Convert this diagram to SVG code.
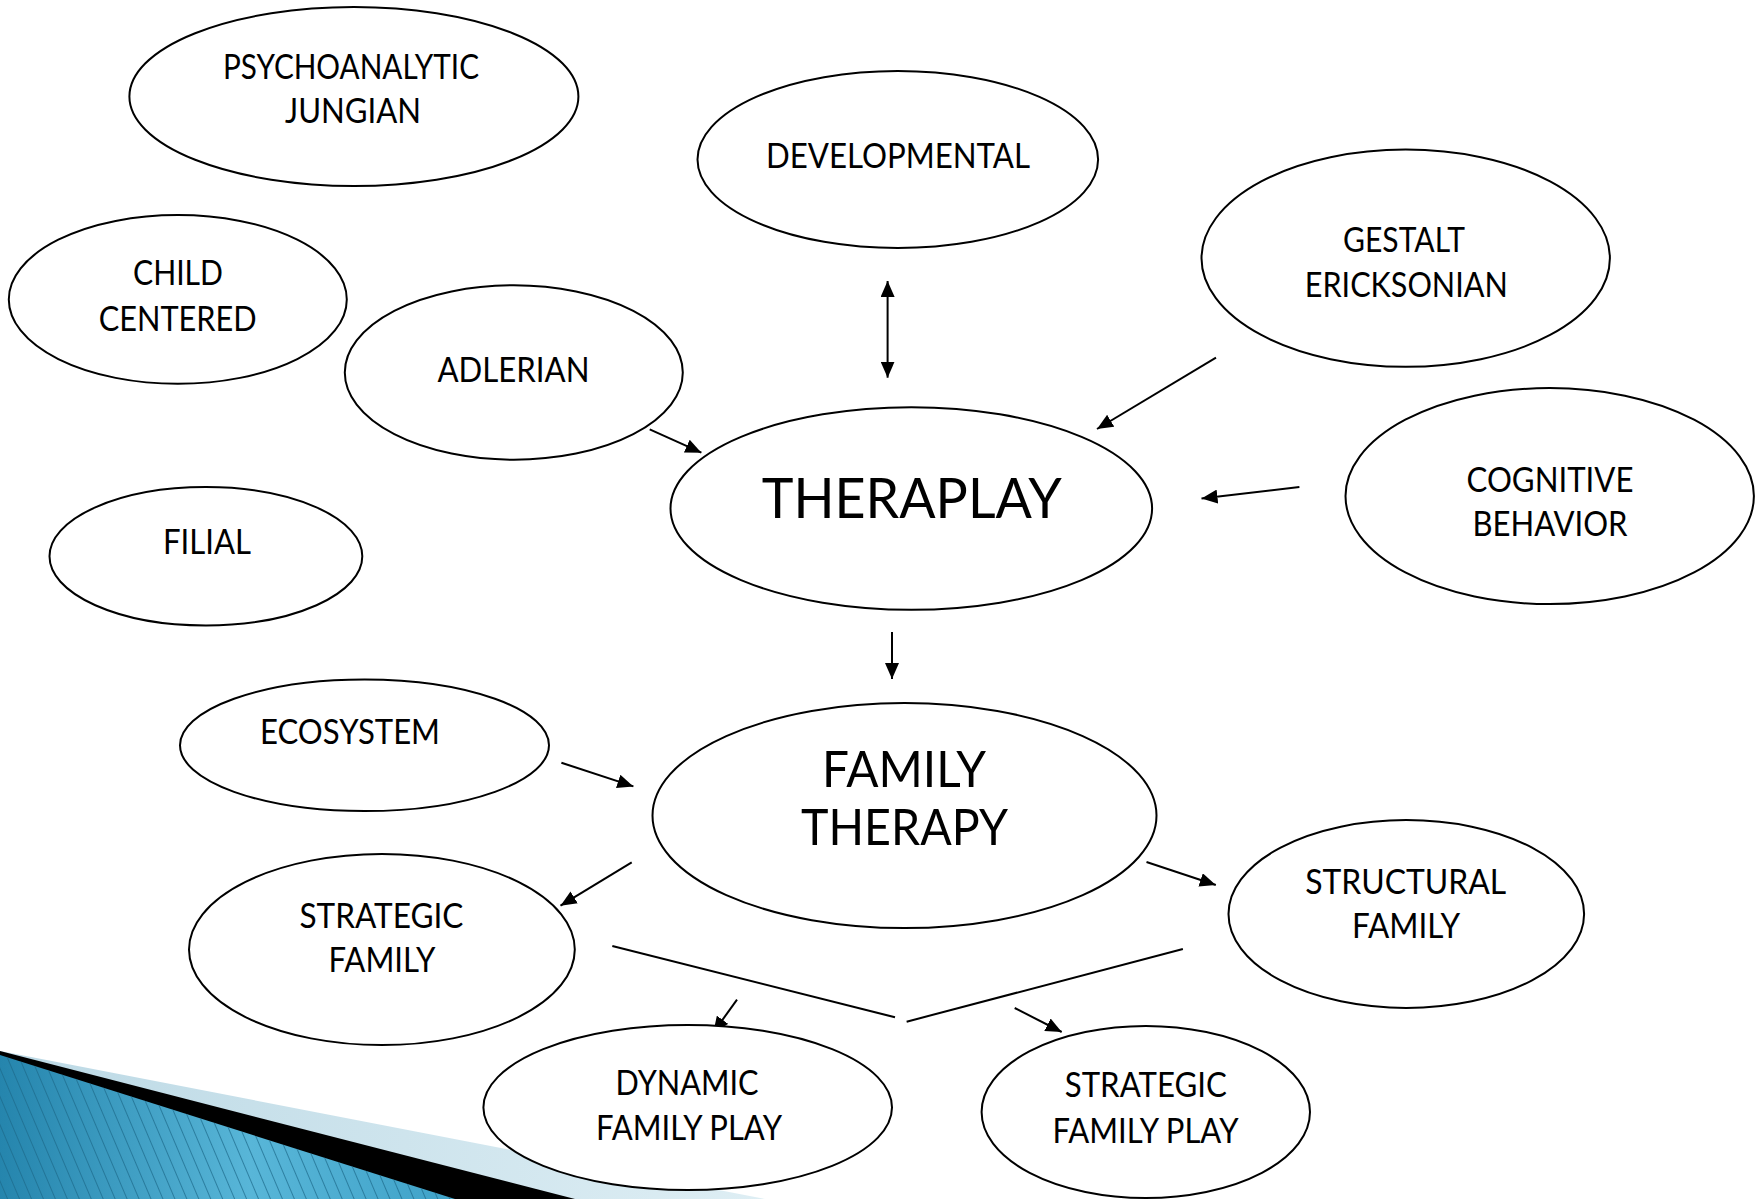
<svg xmlns="http://www.w3.org/2000/svg" width="1764" height="1199" viewBox="0 0 1764 1199">
<style>
.node ellipse{fill:#fff;stroke:#000;stroke-width:2}
.node text{font-family:Lato,"Open Sans","Liberation Sans",sans-serif;font-size:34px;fill:#000;text-anchor:middle}
.node text.big{font-size:56px}
.node text.mid{font-size:51px}
.conn line{stroke:#000;stroke-width:2;fill:none}
</style>
<defs>
<marker id="ah" markerUnits="userSpaceOnUse" markerWidth="17" markerHeight="14" refX="16" refY="7" orient="auto-start-reverse">
<path d="M0,0 L16,7 L0,14 z" fill="#000"/>
</marker>
<linearGradient id="blueG" x1="0" y1="0" x2="1" y2="0">
<stop offset="0" stop-color="#2585ad"/>
<stop offset="0.55" stop-color="#58b6d8"/>
<stop offset="1" stop-color="#3fa2c8"/>
</linearGradient>
<linearGradient id="lightG" x1="0" y1="0" x2="1" y2="0">
<stop offset="0" stop-color="#bcd9e5"/>
<stop offset="1" stop-color="#deeef4"/>
</linearGradient>
<pattern id="stripes" width="11" height="11" patternUnits="userSpaceOnUse" patternTransform="rotate(-23)">
<line x1="0.5" y1="0" x2="0.5" y2="11" stroke="#1d6a8a" stroke-width="1" stroke-opacity="0.7"/>
</pattern>
</defs>
<rect width="1764" height="1199" fill="#fff"/>
<g id="decoration">
<polygon points="0,1051 765,1199 0,1199" fill="url(#lightG)"/>
<polygon points="0,1051 575,1199 0,1199" fill="#000"/>
<polygon points="0,1055 455,1199 0,1199" fill="url(#blueG)"/>
<polygon points="0,1055 455,1199 0,1199" fill="url(#stripes)"/>
</g>
<g id="connectors" class="conn">
<line x1="887.6" y1="281" x2="887.6" y2="377.7" marker-start="url(#ah)" marker-end="url(#ah)"/>
<line x1="649.7" y1="429.3" x2="701.4" y2="452.7" marker-end="url(#ah)"/>
<line x1="1216" y1="357.7" x2="1097" y2="429" marker-end="url(#ah)"/>
<line x1="1299.4" y1="487" x2="1201.5" y2="498.4" marker-end="url(#ah)"/>
<line x1="892" y1="632" x2="892" y2="679" marker-end="url(#ah)"/>
<line x1="561.4" y1="762.7" x2="633.4" y2="786.4" marker-end="url(#ah)"/>
<line x1="631.7" y1="862.3" x2="560.5" y2="905.7" marker-end="url(#ah)"/>
<line x1="1146.5" y1="862" x2="1215.8" y2="885" marker-end="url(#ah)"/>
<line x1="612.3" y1="946" x2="895" y2="1017.3"/>
<line x1="1182.9" y1="949" x2="906.6" y2="1021.7"/>
<line x1="737" y1="999.7" x2="713.2" y2="1032.7" marker-end="url(#ah)"/>
<line x1="1014.7" y1="1008" x2="1061.7" y2="1032" marker-end="url(#ah)"/>
</g>
<g id="psychoanalytic" class="node">
<ellipse cx="353.9" cy="96.5" rx="224.5" ry="89.5"/>
<text x="351" y="79" textLength="256" lengthAdjust="spacingAndGlyphs">PSYCHOANALYTIC</text>
<text x="353" y="122.5" textLength="136" lengthAdjust="spacingAndGlyphs">JUNGIAN</text>
</g>
<g id="developmental" class="node">
<ellipse cx="897.8" cy="159.5" rx="200.3" ry="88.5"/>
<text x="898" y="168" textLength="264" lengthAdjust="spacingAndGlyphs">DEVELOPMENTAL</text>
</g>
<g id="gestalt" class="node">
<ellipse cx="1405.7" cy="258.2" rx="204.2" ry="108.6"/>
<text x="1404" y="252" textLength="122" lengthAdjust="spacingAndGlyphs">GESTALT</text>
<text x="1406.3" y="297" textLength="203" lengthAdjust="spacingAndGlyphs">ERICKSONIAN</text>
</g>
<g id="child-centered" class="node">
<ellipse cx="177.8" cy="299.4" rx="169" ry="84.4"/>
<text x="178" y="284.5" textLength="90" lengthAdjust="spacingAndGlyphs">CHILD</text>
<text x="177.7" y="330.5" textLength="158" lengthAdjust="spacingAndGlyphs">CENTERED</text>
</g>
<g id="adlerian" class="node">
<ellipse cx="513.8" cy="372.5" rx="169" ry="87.2"/>
<text x="513.5" y="381.5" textLength="152" lengthAdjust="spacingAndGlyphs">ADLERIAN</text>
</g>
<g id="theraplay" class="node">
<ellipse cx="911.3" cy="508.5" rx="240.8" ry="101.3"/>
<text class="big" x="911.7" y="517.5" textLength="300" lengthAdjust="spacingAndGlyphs">THERAPLAY</text>
</g>
<g id="cognitive-behavior" class="node">
<ellipse cx="1549.7" cy="496.1" rx="204.2" ry="108"/>
<text x="1550" y="491.5" textLength="167" lengthAdjust="spacingAndGlyphs">COGNITIVE</text>
<text x="1550" y="535.5" textLength="155" lengthAdjust="spacingAndGlyphs">BEHAVIOR</text>
</g>
<g id="filial" class="node">
<ellipse cx="205.9" cy="556.3" rx="156.4" ry="69.2"/>
<text x="207" y="553.5" textLength="88" lengthAdjust="spacingAndGlyphs">FILIAL</text>
</g>
<g id="ecosystem" class="node">
<ellipse cx="364.5" cy="745.3" rx="184.5" ry="65.8"/>
<text x="350" y="744" textLength="180" lengthAdjust="spacingAndGlyphs">ECOSYSTEM</text>
</g>
<g id="family-therapy" class="node">
<ellipse cx="904.5" cy="815.6" rx="252" ry="112.5"/>
<text class="mid" x="904" y="787" textLength="164" lengthAdjust="spacingAndGlyphs">FAMILY</text>
<text class="mid" x="904.5" y="845" textLength="207" lengthAdjust="spacingAndGlyphs">THERAPY</text>
</g>
<g id="strategic-family" class="node">
<ellipse cx="381.9" cy="949.5" rx="192.9" ry="95.6"/>
<text x="381.4" y="928" textLength="164" lengthAdjust="spacingAndGlyphs">STRATEGIC</text>
<text x="382" y="972" textLength="107" lengthAdjust="spacingAndGlyphs">FAMILY</text>
</g>
<g id="structural-family" class="node">
<ellipse cx="1406.3" cy="914" rx="177.8" ry="93.9"/>
<text x="1405.7" y="893.5" textLength="201" lengthAdjust="spacingAndGlyphs">STRUCTURAL</text>
<text x="1406" y="938" textLength="108" lengthAdjust="spacingAndGlyphs">FAMILY</text>
</g>
<g id="dynamic-family-play" class="node">
<ellipse cx="687.7" cy="1107.5" rx="204.3" ry="82.5"/>
<text x="687" y="1094.5" textLength="143" lengthAdjust="spacingAndGlyphs">DYNAMIC</text>
<text x="689" y="1139.5" textLength="186" lengthAdjust="spacingAndGlyphs">FAMILY PLAY</text>
</g>
<g id="strategic-family-play" class="node">
<ellipse cx="1145.8" cy="1112" rx="164.2" ry="86"/>
<text x="1145.8" y="1097" textLength="162" lengthAdjust="spacingAndGlyphs">STRATEGIC</text>
<text x="1145.5" y="1142.5" textLength="186" lengthAdjust="spacingAndGlyphs">FAMILY PLAY</text>
</g>
</svg>
